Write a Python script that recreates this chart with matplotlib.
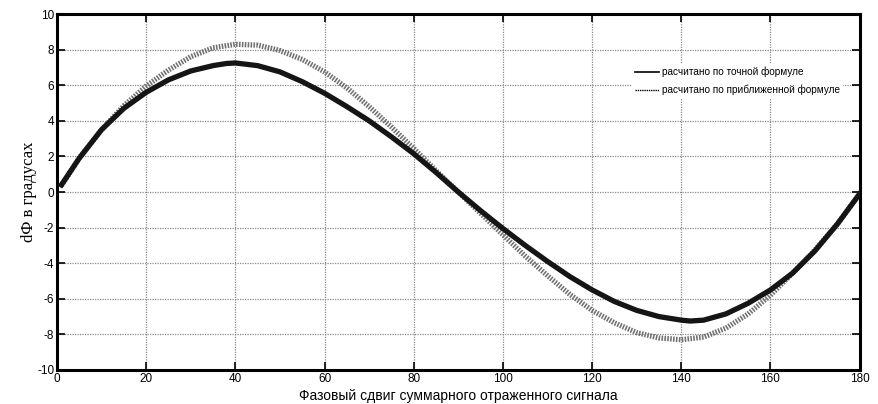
import matplotlib
matplotlib.use("Agg")
import matplotlib.pyplot as plt
from matplotlib.lines import Line2D

# phase shift, degrees
x_exact = [1, 5, 10, 15, 20, 25, 30, 35, 38, 40, 45, 50, 55, 60, 65, 70, 75, 80, 85, 90,
           95, 100, 105, 110, 115, 120, 125, 130, 135, 140, 142, 145, 150, 155, 160, 165,
           170, 175, 180]
y_exact = [0.4, 1.9, 3.5, 4.7, 5.6, 6.3, 6.8, 7.1, 7.22, 7.25, 7.1, 6.75, 6.2, 5.55, 4.8,
           4.0, 3.1, 2.15, 1.1, 0.0, -1.05, -2.05, -3.0, -3.9, -4.75, -5.5, -6.15, -6.65,
           -7.0, -7.2, -7.25, -7.2, -6.85, -6.25, -5.5, -4.55, -3.3, -1.8, -0.1]

x_approx = [1, 5, 10, 15, 20, 25, 30, 35, 40, 45, 50, 55, 60, 65, 70, 75, 80, 85, 90,
            95, 100, 105, 110, 115, 120, 125, 130, 135, 140, 145, 150, 155, 160, 165,
            170, 175, 180]
y_approx = [0.35, 1.9, 3.5, 4.85, 5.95, 6.85, 7.6, 8.1, 8.3, 8.25, 7.95, 7.45, 6.75, 5.85,
            4.8, 3.65, 2.45, 1.2, 0.0, -1.2, -2.4, -3.6, -4.7, -5.75, -6.65, -7.35, -7.9,
            -8.2, -8.3, -8.15, -7.65, -6.85, -5.8, -4.55, -3.25, -1.8, -0.1]

x_ticks = [0, 20, 40, 60, 80, 100, 120, 140, 160, 180]
y_ticks = [-10, -8, -6, -4, -2, 0, 2, 4, 6, 8, 10]

plt.rcParams['font.family'] = ['Liberation Sans', 'DejaVu Sans']
plt.rcParams['axes.unicode_minus'] = False

fig = plt.figure(figsize=(8.79, 4.04), dpi=100)
ax = fig.add_axes([0.0648, 0.0842, 0.9132, 0.8811])

ax.plot(x_exact, y_exact, color='#151515', linewidth=3.8, solid_joinstyle='round',
        zorder=3)
ax.plot(x_approx, y_approx, color='#707070', linewidth=3.8,
        linestyle=(0, (0.3, 0.25)), zorder=2)

ax.set_xlim(0, 180)
ax.set_ylim(-10, 10)
ax.set_xticks(x_ticks)
ax.set_yticks(y_ticks)
ax.grid(True, color='#8a8a8a', linestyle=(0, (1, 1)), linewidth=0.9)
ax.tick_params(direction='in', length=6, width=1.2, top=True, right=True,
               labelsize=8.5, pad=2)
for s in ax.spines.values():
    s.set_linewidth(2.2)

ax.set_xlabel('Фазовый сдвиг суммарного отраженного сигнала', fontsize=10, labelpad=3)
ax.set_ylabel('dФ в градусах', fontsize=12, family=['Liberation Serif', 'DejaVu Serif'],
              labelpad=0)

handles = [Line2D([], [], color='black', linewidth=1.2),
           Line2D([], [], color='black', linewidth=1.0, linestyle=(0, (1, 0.6)))]
labels = ['расчитано по точной формуле', 'расчитано по приближенной формуле']
leg = ax.legend(handles, labels, loc='upper right', bbox_to_anchor=(0.986, 0.875),
                fontsize=7.2, frameon=True, edgecolor='none', fancybox=False,
                framealpha=1, handlelength=2.4, handletextpad=0.3, borderpad=0.3,
                labelspacing=0.75)

fig.savefig('out.png', dpi=100)
